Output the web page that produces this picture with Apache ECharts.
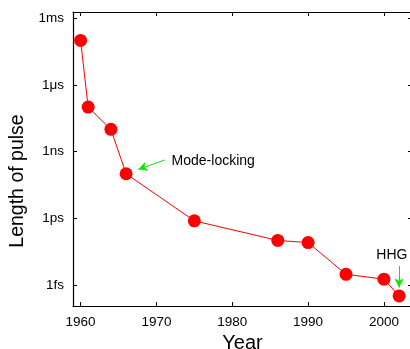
<!DOCTYPE html>
<html>
<head>
<meta charset="utf-8">
<script src="https://cdn.jsdelivr.net/npm/echarts@6/dist/echarts.min.js"></script>
<style>
  html, body { margin: 0; padding: 0; background: #fff; }
  #chart { width: 410px; height: 349px; }
</style>
</head>
<body>
<div id="chart"></div>
<script>
// Shortest laser pulse achieved, by year (pulse length in seconds)
const years = [1960, 1961, 1964, 1966, 1975, 1986, 1990, 1995, 2000, 2002];
const pulseSeconds = [1e-4, 1e-7, 1e-8, 1e-10, 7.6e-13, 1e-13, 8e-14, 3e-15, 1.8e-15, 3.2e-16];

// Decade labels on the time axis
const tickSeconds = [1e-15, 1e-12, 1e-9, 1e-6, 1e-3];
const tickLabels = ['1fs', '1ps', '1ns', '1\u03bcs', '1ms'];
const yearTicks = [1960, 1970, 1980, 1990, 2000];

const lg = v => Math.log10(v);
const tickExp = tickSeconds.map(lg);
const labelFor = {};
tickExp.forEach((e, i) => { labelFor[Math.round(e)] = tickLabels[i]; });

const FONT = 'Liberation Sans, Arial, sans-serif';
const X_MIN = 1959, X_MAX = 2003.7;
const Y_MIN = -15.95, Y_MAX = -2.72;

const frame = { show: true, lineStyle: { color: '#000', width: 1.2 } };

const chart = echarts.init(document.getElementById('chart'), null, { renderer: 'canvas' });
chart.setOption({
  animation: false,
  backgroundColor: '#fff',
  grid: { left: 73, top: 12, right: -2, bottom: 43, containLabel: false, outerBoundsMode: 'none' },
  xAxis: [
    {
      type: 'value', min: X_MIN, max: X_MAX, position: 'bottom',
      axisLine: frame,
      splitLine: { show: false },
      axisTick: { inside: true, length: 4, customValues: yearTicks, lineStyle: { color: '#000' } },
      axisLabel: { customValues: yearTicks, margin: 9, color: '#000', fontFamily: FONT, fontSize: 13.5, formatter: v => String(Math.round(v)) },
      name: 'Year', nameLocation: 'middle', nameGap: 27,
      nameTextStyle: { fontFamily: FONT, fontSize: 20, color: '#000' }
    },
    {
      type: 'value', min: X_MIN, max: X_MAX, position: 'top',
      axisLine: frame, splitLine: { show: false },
      axisTick: { inside: true, length: 4, customValues: yearTicks, lineStyle: { color: '#000' } },
      axisLabel: { show: false }
    }
  ],
  yAxis: [
    {
      type: 'value', min: Y_MIN, max: Y_MAX, position: 'left',
      axisLine: frame, splitLine: { show: false },
      axisTick: { inside: true, length: 4, customValues: tickExp, lineStyle: { color: '#000' } },
      axisLabel: {
        customValues: tickExp, margin: 9, color: '#000', fontFamily: FONT, fontSize: 13.5,
        formatter: v => labelFor[Math.round(v)] || ''
      },
      name: 'Length of pulse', nameLocation: 'middle', nameGap: 37, nameRotate: 90,
      nameTextStyle: { fontFamily: FONT, fontSize: 19.5, color: '#000', padding: [0, 44, 0, 0] }
    },
    {
      type: 'value', min: Y_MIN, max: Y_MAX, position: 'right',
      axisLine: frame, splitLine: { show: false },
      axisTick: { inside: true, length: 4, customValues: tickExp, lineStyle: { color: '#000' } },
      axisLabel: { show: false }
    }
  ],
  series: [
    {
      type: 'line',
      data: years.map((y, i) => [y, lg(pulseSeconds[i])]),
      symbol: 'circle', symbolSize: 13,
      itemStyle: { color: '#ff0000' },
      lineStyle: { color: '#ff0000', width: 1 },
      markLine: {
        silent: true, symbol: ['none', 'arrow'], symbolSize: [7, 9],
        lineStyle: { color: '#00ee00', width: 1, type: 'solid' },
        label: { show: false },
        data: [
          [{ coord: [1971.1, -9.38] }, { coord: [1967.6, -9.8] }],
          [{ coord: [2002, -14.15] }, { coord: [2002, -15.12] }]
        ]
      },
      markPoint: {
        silent: true, symbol: 'circle', symbolSize: 0,
        data: [
          { coord: [1972.0, -9.41], label: { show: true, formatter: 'Mode-locking', position: 'right', distance: 0, color: '#000', fontFamily: FONT, fontSize: 14 } },
          { coord: [2001.05, -13.65], label: { show: true, formatter: 'HHG', position: 'inside', color: '#000', fontFamily: FONT, fontSize: 14 } }
        ]
      }
    }
  ]
});
</script>
</body>
</html>
